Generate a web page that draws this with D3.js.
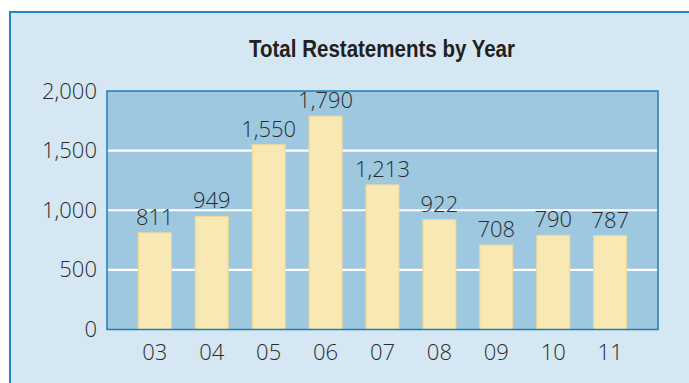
<!DOCTYPE html>
<html>
<head>
<meta charset="utf-8">
<script src="https://cdn.jsdelivr.net/npm/d3@7"></script>
<style>
  html, body { margin: 0; padding: 0; background: #ffffff; }
  svg { display: block; }
</style>
</head>
<body>
<svg id="chart" width="689" height="383"></svg>
<script>
// Restatements filed per year (two-digit year labels)
const years = ["03", "04", "05", "06", "07", "08", "09", "10", "11"];
const restatements = [811, 949, 1550, 1790, 1213, 922, 708, 790, 787];
const yTicks = [0, 500, 1000, 1500, 2000];
const title = "Total Restatements by Year";

const labelFont = "'Open Sans', 'Liberation Sans', Arial, sans-serif";
const labelWeight = 350;
const labelSize = 22;
const labelColor = "#2b2b2b";

const svg = d3.select("#chart");
const W = 689, H = 383;

// Panel box
const panel = { x: 10, y: 12 };
// Plot area
const plot = { left: 107, top: 91, right: 658, bottom: 329.5 };

svg.append("rect")
  .attr("x", panel.x).attr("y", panel.y)
  .attr("width", W + 20).attr("height", H + 20)
  .attr("fill", "#d4e7f2")
  .attr("stroke", "#2287bb")
  .attr("stroke-width", 2);

svg.append("text")
  .attr("x", 382).attr("y", 56.5)
  .attr("text-anchor", "middle")
  .attr("font-family", "'Liberation Sans', Arial, sans-serif")
  .attr("font-weight", "bold")
  .attr("font-size", 23)
  .attr("textLength", 266)
  .attr("lengthAdjust", "spacingAndGlyphs")
  .attr("fill", "#231f20")
  .text(title);

const x = d3.scaleBand()
  .domain(years)
  .range([plot.left, plot.right])
  .paddingInner(0.42)
  .paddingOuter(0.55);

const y = d3.scaleLinear()
  .domain([0, 2000])
  .range([plot.bottom, plot.top]);

svg.append("rect")
  .attr("x", plot.left).attr("y", plot.top)
  .attr("width", plot.right - plot.left)
  .attr("height", plot.bottom - plot.top)
  .attr("fill", "#9dc8e0");

// White gridlines
svg.append("g")
  .selectAll("line")
  .data(yTicks.filter(d => d > 0 && d < 2000))
  .join("line")
  .attr("x1", plot.left).attr("x2", plot.right)
  .attr("y1", d => y(d)).attr("y2", d => y(d))
  .attr("stroke", "#ffffff")
  .attr("stroke-width", 2.2);

const rows = years.map((yr, i) => ({ yr, v: restatements[i] }));

// Bars
svg.append("g")
  .selectAll("rect")
  .data(rows)
  .join("rect")
  .attr("x", d => x(d.yr))
  .attr("y", d => y(d.v))
  .attr("width", x.bandwidth())
  .attr("height", d => y(0) - y(d.v))
  .attr("fill", "#f8e8b4")
  .attr("stroke", "#f2d88e")
  .attr("stroke-width", 1);

// Value labels
svg.append("g")
  .selectAll("text")
  .data(rows)
  .join("text")
  .attr("x", d => x(d.yr) + x.bandwidth() / 2)
  .attr("y", d => y(d.v) - 8)
  .attr("text-anchor", "middle")
  .attr("font-family", labelFont)
  .attr("font-weight", labelWeight)
  .attr("font-size", labelSize)
  .attr("fill", labelColor)
  .text(d => d3.format(",")(d.v));

// Plot border
svg.append("rect")
  .attr("x", plot.left).attr("y", plot.top)
  .attr("width", plot.right - plot.left)
  .attr("height", plot.bottom - plot.top)
  .attr("fill", "none")
  .attr("stroke", "#1b80b3")
  .attr("stroke-width", 1.5);

function styleTicks(g) {
  g.select(".domain").remove();
  g.selectAll("text")
    .attr("font-family", labelFont)
    .attr("font-weight", labelWeight)
    .attr("font-size", labelSize)
    .attr("fill", labelColor);
}

// Y axis labels
const gy = svg.append("g")
  .attr("transform", `translate(${plot.left},0)`)
  .call(d3.axisLeft(y).tickValues(yTicks).tickSize(0).tickPadding(10)
    .tickFormat(d3.format(",")));
styleTicks(gy);

// X axis labels
const gx = svg.append("g")
  .attr("transform", `translate(0,${plot.bottom})`)
  .call(d3.axisBottom(x).tickSize(0).tickPadding(15));
styleTicks(gx);
</script>
</body>
</html>
